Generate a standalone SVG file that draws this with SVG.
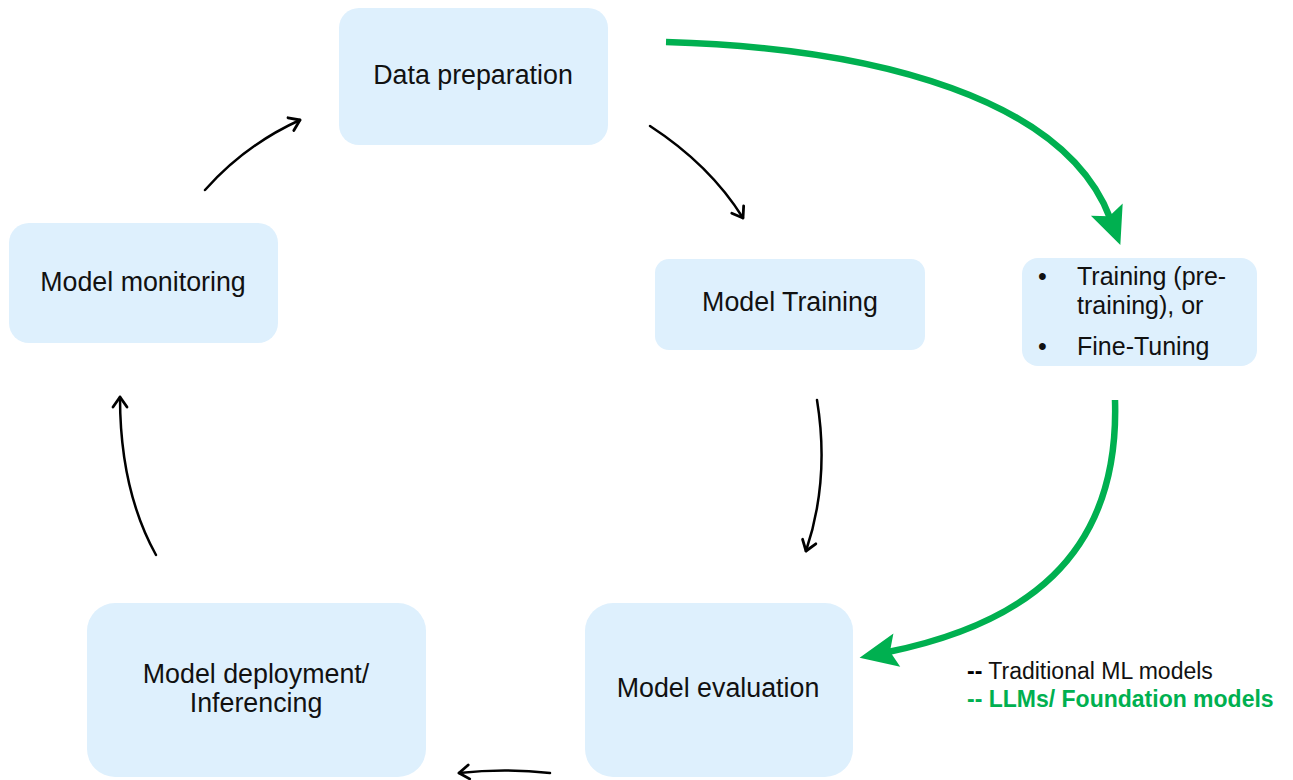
<svg xmlns="http://www.w3.org/2000/svg" width="1293" height="780" viewBox="0 0 1293 780">
<style>
.box{fill:#DEF0FD;}
.t{font-family:"Liberation Sans",Arial,sans-serif;font-size:26.8px;fill:#111;}
.b{font-family:"Liberation Sans",Arial,sans-serif;font-size:25px;fill:#111;}
.lg{font-family:"Liberation Sans",Arial,sans-serif;font-size:23px;}
.k{fill:none;stroke:#000;stroke-width:2.5;stroke-linecap:round;marker-end:url(#ak);}
.g{fill:none;stroke:#00B050;stroke-width:6.5;marker-end:url(#ag);}
</style>
<defs>
<marker id="ak" markerUnits="userSpaceOnUse" markerWidth="20" markerHeight="20" viewBox="0 0 20 20" refX="16" refY="10" orient="auto">
<path d="M6,3 L16,10 L6,17" fill="none" stroke="#000" stroke-width="2.8" stroke-linecap="round" stroke-linejoin="round"/>
</marker>
<marker id="ag" markerUnits="userSpaceOnUse" markerWidth="44" markerHeight="44" viewBox="0 0 44 44" refX="11" refY="22" orient="auto">
<path d="M2,5 L40,22 L2,39 L9,22 Z" fill="#00B050"/>
</marker>
</defs>
<rect width="1293" height="780" fill="#fff"/>
<g id="data-preparation"><rect class="box" x="339" y="8" width="269" height="137" rx="20"/><text class="t" x="473" y="84" text-anchor="middle">Data preparation</text></g>
<g id="model-monitoring"><rect class="box" x="9" y="223" width="269" height="120" rx="20"/><text class="t" x="143" y="291" text-anchor="middle">Model monitoring</text></g>
<g id="model-training"><rect class="box" x="655" y="259" width="270" height="91" rx="14"/><text class="t" x="790" y="311" text-anchor="middle">Model Training</text></g>
<g id="llm-training"><rect class="box" x="1022" y="258" width="235" height="108" rx="16"/>
<text class="b" x="1038" y="285">•</text><text class="b" x="1077" y="285">Training (pre-</text>
<text class="b" x="1077" y="314">training), or</text>
<text class="b" x="1038" y="355">•</text><text class="b" x="1077" y="355">Fine-Tuning</text></g>
<g id="model-deployment"><rect class="box" x="87" y="603" width="339" height="174" rx="28"/><text class="t" x="256" y="683" text-anchor="middle">Model deployment/</text><text class="t" x="256" y="712" text-anchor="middle">Inferencing</text></g>
<g id="model-evaluation"><rect class="box" x="585" y="603" width="268" height="174" rx="28"/><text class="t" x="718" y="697" text-anchor="middle">Model evaluation</text></g>
<g id="legend">
<text class="lg" x="967" y="679"><tspan font-weight="bold" fill="#000">--</tspan><tspan fill="#111"> Traditional ML models</tspan></text>
<text class="lg" x="967" y="707" font-weight="bold" fill="#00B050">-- LLMs/ Foundation models</text>
</g>
<g id="connectors">
<path class="k" d="M205,190 Q245,145 300,120"/>
<path class="k" d="M650,126 Q710,165 743,218"/>
<path class="k" d="M817,400 Q830,480 806,551"/>
<path class="k" d="M550,773 Q505,768 459,773"/>
<path class="k" d="M156,555 Q120,490 120,397"/>
<path class="g" d="M666,42 C880,48 1065,100 1110,218"/>
<path class="g" d="M1115,400 C1120,560 1020,625 888,652"/>
</g>
</svg>
